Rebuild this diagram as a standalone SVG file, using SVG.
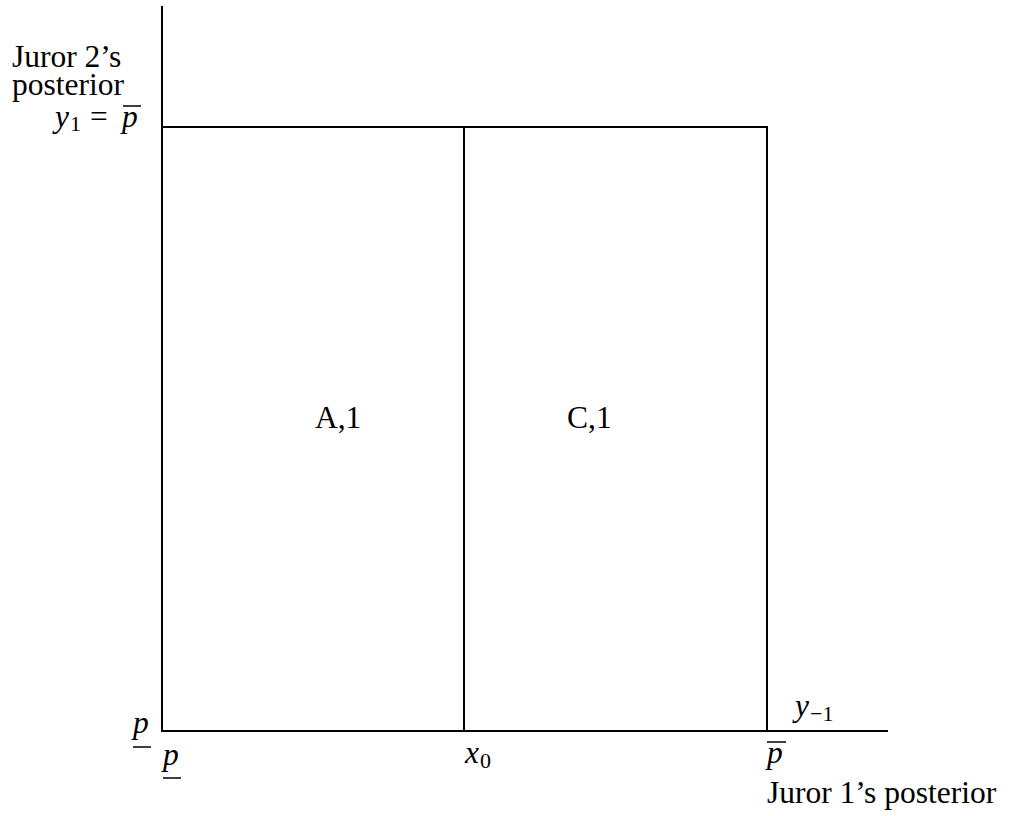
<svg xmlns="http://www.w3.org/2000/svg" width="1011" height="816" viewBox="0 0 1011 816">
<style>
.ln{stroke:#000;stroke-width:2;fill:none}
.bar{stroke:#000;stroke-width:1.5}
text{font-family:"Liberation Serif","Times New Roman",serif;font-size:31.5px;fill:#000}
.i{font-style:italic}
.s{font-size:22px}
</style>
<rect width="1011" height="816" fill="#fff"/>
<g id="axes">
<line class="ln" x1="162" y1="6" x2="162" y2="732"/>
<line class="ln" x1="161" y1="731" x2="888" y2="731"/>
</g>
<g id="connectors">
<line class="ln" x1="162" y1="127" x2="768" y2="127"/>
<line class="ln" x1="464" y1="127" x2="464" y2="731"/>
<line class="ln" x1="767" y1="127" x2="767" y2="731"/>
</g>
<g id="ylabel">
<text x="12" y="67">Juror 2’s</text>
<text x="12" y="95">posterior</text>
</g>
<g id="ytop">
<text class="i" x="55" y="127">y</text>
<text class="s" x="70" y="131">1</text>
<text x="90" y="127">=</text>
<text class="i" x="122" y="127">p</text>
<line class="bar" x1="123" y1="106" x2="141" y2="106"/>
</g>
<g id="regionA"><text x="315" y="428">A,1</text></g>
<g id="regionC"><text x="567" y="428">C,1</text></g>
<g id="ybottom">
<text class="i" x="133" y="733">p</text>
<line class="bar" x1="133" y1="747" x2="151" y2="747"/>
</g>
<g id="xleft">
<text class="i" x="163" y="765">p</text>
<line class="bar" x1="163" y1="778" x2="181" y2="778"/>
</g>
<g id="x0">
<text class="i" x="465" y="763">x</text>
<text class="s" x="480" y="768">0</text>
</g>
<g id="xright">
<text class="i" x="767" y="763">p</text>
<line class="bar" x1="767" y1="742" x2="786" y2="742"/>
</g>
<g id="ym1">
<text class="i" x="795" y="716">y</text>
<text class="s" x="810" y="721">−1</text>
</g>
<g id="xlabel"><text x="767" y="803">Juror 1’s posterior</text></g>
</svg>
